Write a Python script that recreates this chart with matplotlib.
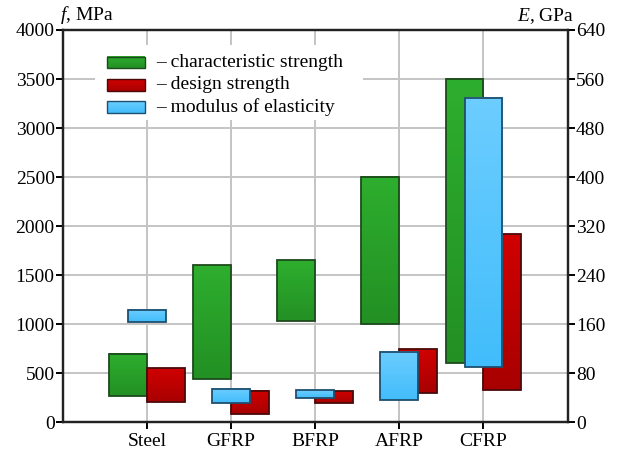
import numpy as np
import matplotlib
matplotlib.use("Agg")
import matplotlib.pyplot as plt
from matplotlib.patches import Rectangle
from matplotlib.colors import LinearSegmentedColormap

categories = ["Steel", "GFRP", "BFRP", "AFRP", "CFRP"]
char_low = [265, 445, 1030, 1000, 600]
char_high = [700, 1600, 1650, 2500, 3500]
design_low = [210, 80, 200, 300, 330]
design_high = [550, 320, 320, 745, 1920]
mod_low = [163, 31, 40, 36, 90]
mod_high = [183, 54, 52, 115, 529]

left_ticks = [0, 500, 1000, 1500, 2000, 2500, 3000, 3500, 4000]
right_ticks = [0, 80, 160, 240, 320, 400, 480, 560, 640]

plt.rcParams['font.family'] = ['Liberation Serif', 'DejaVu Serif']
plt.rcParams['mathtext.fontset'] = 'custom'
plt.rcParams['mathtext.it'] = 'Liberation Serif:italic'
plt.rcParams['mathtext.rm'] = 'Liberation Serif'

FS = 14

fig = plt.figure(figsize=(6.18, 4.57), dpi=100)
ax = fig.add_axes([0.1019, 0.0759, 0.8164, 0.8585])
ax2 = ax.twinx()

W = 0.45
x = np.arange(1, len(categories) + 1)

green_cm = LinearSegmentedColormap.from_list("g", ["#2eae2e", "#239024"])
red_cm = LinearSegmentedColormap.from_list("r", ["#d00000", "#a80000"])
blue_cm = LinearSegmentedColormap.from_list("b", ["#6ccdff", "#42bdfb"])
grad = np.linspace(0, 1, 64).reshape(-1, 1)

def gbar(a, x0, lo, hi, cmap, edge, z):
    a.imshow(grad, extent=(x0, x0 + W, lo, hi), cmap=cmap, aspect='auto',
             zorder=z, interpolation='bilinear', origin='upper')
    a.add_patch(Rectangle((x0, lo), W, hi - lo, fill=False, edgecolor=edge,
                          linewidth=1.3, zorder=z + 0.1))

for i, xi in enumerate(x):
    gbar(ax, xi - W, char_low[i], char_high[i], green_cm, "#1d4a1d", 3)
    gbar(ax, xi, design_low[i], design_high[i], red_cm, "#4a0a0a", 3)
    gbar(ax2, xi - W / 2, mod_low[i], mod_high[i], blue_cm, "#1f4f6e", 3)

ax.set_xlim(0, 6)
ax.set_ylim(0, 4000)
ax2.set_ylim(0, 640)
ax.set_xticks(x)
ax.set_xticklabels(categories)
ax.set_yticks(left_ticks)
ax2.set_yticks(right_ticks)

ax.grid(True, color="#c4c4c4", linewidth=1.4, zorder=0)
ax.set_axisbelow(True)

for a in (ax, ax2):
    for s in a.spines.values():
        s.set_linewidth(1.6)
        s.set_color("#222222")
ax.tick_params(axis='both', labelsize=FS, length=5, width=1.4, direction='out', pad=1)
ax2.tick_params(axis='y', labelsize=FS, length=5, width=1.4, direction='out', pad=1)
ax.tick_params(axis='x', pad=3)

ax.text(-0.006, 1.01, r"$f$, MPa", transform=ax.transAxes, ha='left', va='bottom', fontsize=FS)
ax2.text(1.014, 1.01, r"$E$, GPa", transform=ax2.transAxes, ha='right', va='bottom', fontsize=FS)

# legend
bg = Rectangle((0.063, 0.77), 0.532, 0.192, transform=ax2.transAxes, facecolor='white',
               edgecolor='none', zorder=4)
ax2.add_patch(bg)
labels = ["– characteristic strength", "– design strength", "– modulus of elasticity"]
cms = [green_cm, red_cm, blue_cm]
edges = ["#1d4a1d", "#4a0a0a", "#1f4f6e"]
ys = [0.917, 0.86, 0.804]
for lab, cm, ec, yy in zip(labels, cms, edges, ys):
    x0, w, h = 0.088, 0.075, 0.030
    ax2.imshow(grad, extent=(x0, x0 + w, yy - h / 2, yy + h / 2), cmap=cm, aspect='auto',
               transform=ax2.transAxes, zorder=5, interpolation='bilinear', origin='upper')
    ax2.add_patch(Rectangle((x0, yy - h / 2), w, h, transform=ax2.transAxes, fill=False,
                            edgecolor=ec, linewidth=1.0, zorder=5.1))
    ax2.text(0.184, yy, lab, transform=ax2.transAxes, va='center', ha='left',
             fontsize=FS, zorder=6)

ax.set_xlim(0, 6)
ax.set_ylim(0, 4000)
ax2.set_ylim(0, 640)

fig.savefig("out.png", dpi=100)
